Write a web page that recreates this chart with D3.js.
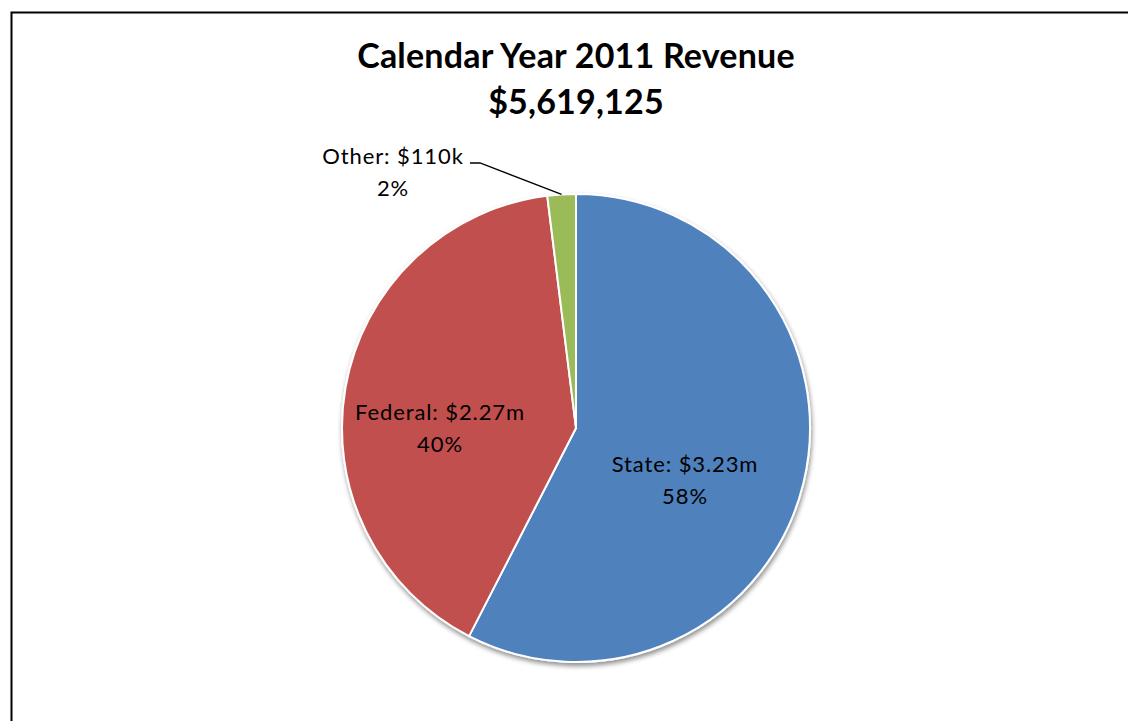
<!DOCTYPE html>
<meta charset="utf-8">
<script src="https://d3js.org/d3.v7.min.js"></script>
<style>
body { margin: 0; background: white; }
text { font-family: Lato, "Open Sans", sans-serif; fill: black; }
.title { font-weight: bold; font-size: 34px; letter-spacing: 0.2px; }
.lbl { font-size: 22px; letter-spacing: 0.9px; }
</style>
<div id="chart"></div>
<script>
// data
var categories = ["State", "Federal", "Other"];
var amounts = [3234000, 2275000, 110125];
var amountLabels = ["$3.23m", "$2.27m", "$110k"];
var colors = ["#4F81BD", "#C0504D", "#9BBB59"];
var titleLines = ["Calendar Year 2011 Revenue", "$5,619,125"];

var width = 1128, height = 721;
var cx = 576, cy = 428, radius = 234;

var svg = d3.select("#chart").append("svg")
    .attr("width", width)
    .attr("height", height);

// chart frame (right and bottom run off the page)
svg.append("path")
    .attr("d", "M11.5," + height + "V12.5H" + width)
    .attr("fill", "none")
    .attr("stroke", "black")
    .attr("stroke-width", 2);

// title
svg.selectAll(".title")
  .data(titleLines)
  .enter().append("text")
    .attr("class", "title")
    .attr("x", cx)
    .attr("y", function(d, i) { return 68 + i * 46; })
    .attr("text-anchor", "middle")
    .text(function(d) { return d; });

var defs = svg.append("defs");
var shadow = defs.append("filter").attr("id", "shadow")
    .attr("x", "-10%").attr("y", "-10%").attr("width", "120%").attr("height", "120%");
shadow.append("feGaussianBlur").attr("in", "SourceAlpha").attr("stdDeviation", 2.5);
shadow.append("feOffset").attr("dx", 1).attr("dy", 3).attr("result", "blur");
shadow.append("feComponentTransfer").append("feFuncA").attr("type", "linear").attr("slope", 0.45);
var merge = shadow.append("feMerge");
merge.append("feMergeNode");
merge.append("feMergeNode").attr("in", "SourceGraphic");

var pie = d3.pie().sort(null).value(function(d) { return d; });
var arcs = pie(amounts);
var arc = d3.arc().innerRadius(0).outerRadius(radius);

var g = svg.append("g").attr("transform", "translate(" + cx + "," + cy + ")");

g.append("g").attr("filter", "url(#shadow)")
  .selectAll("path")
  .data(arcs)
  .enter().append("path")
    .attr("d", arc)
    .attr("fill", function(d, i) { return colors[i]; })
    .attr("stroke", "white")
    .attr("stroke-width", 2)
    .attr("stroke-linejoin", "round");

// label positions (relative to centre)
var labelPos = [[109, 44], [-136, -8], [-183, -264]];

var total = d3.sum(amounts);
var lbl = g.selectAll(".lbl")
  .data(arcs)
  .enter().append("text")
    .attr("class", "lbl")
    .attr("text-anchor", "middle")
    .attr("transform", function(d, i) { return "translate(" + labelPos[i] + ")"; });
lbl.append("tspan").attr("x", 0).attr("dy", 0)
    .text(function(d, i) { return categories[i] + ": " + amountLabels[i]; });
lbl.append("tspan").attr("x", 0).attr("dy", 32)
    .text(function(d, i) { return Math.round(d.data / total * 100) + "%"; });

// leader line for Other
var o = arcs[2];
var mid = (o.startAngle + o.endAngle) / 2;
var edge = [Math.sin(mid) * radius, -Math.cos(mid) * radius];
g.append("polyline")
    .attr("points", [[-106, -265], [-96, -265], edge].join(" "))
    .attr("fill", "none")
    .attr("stroke", "black")
    .attr("stroke-width", 1.3);
</script>
